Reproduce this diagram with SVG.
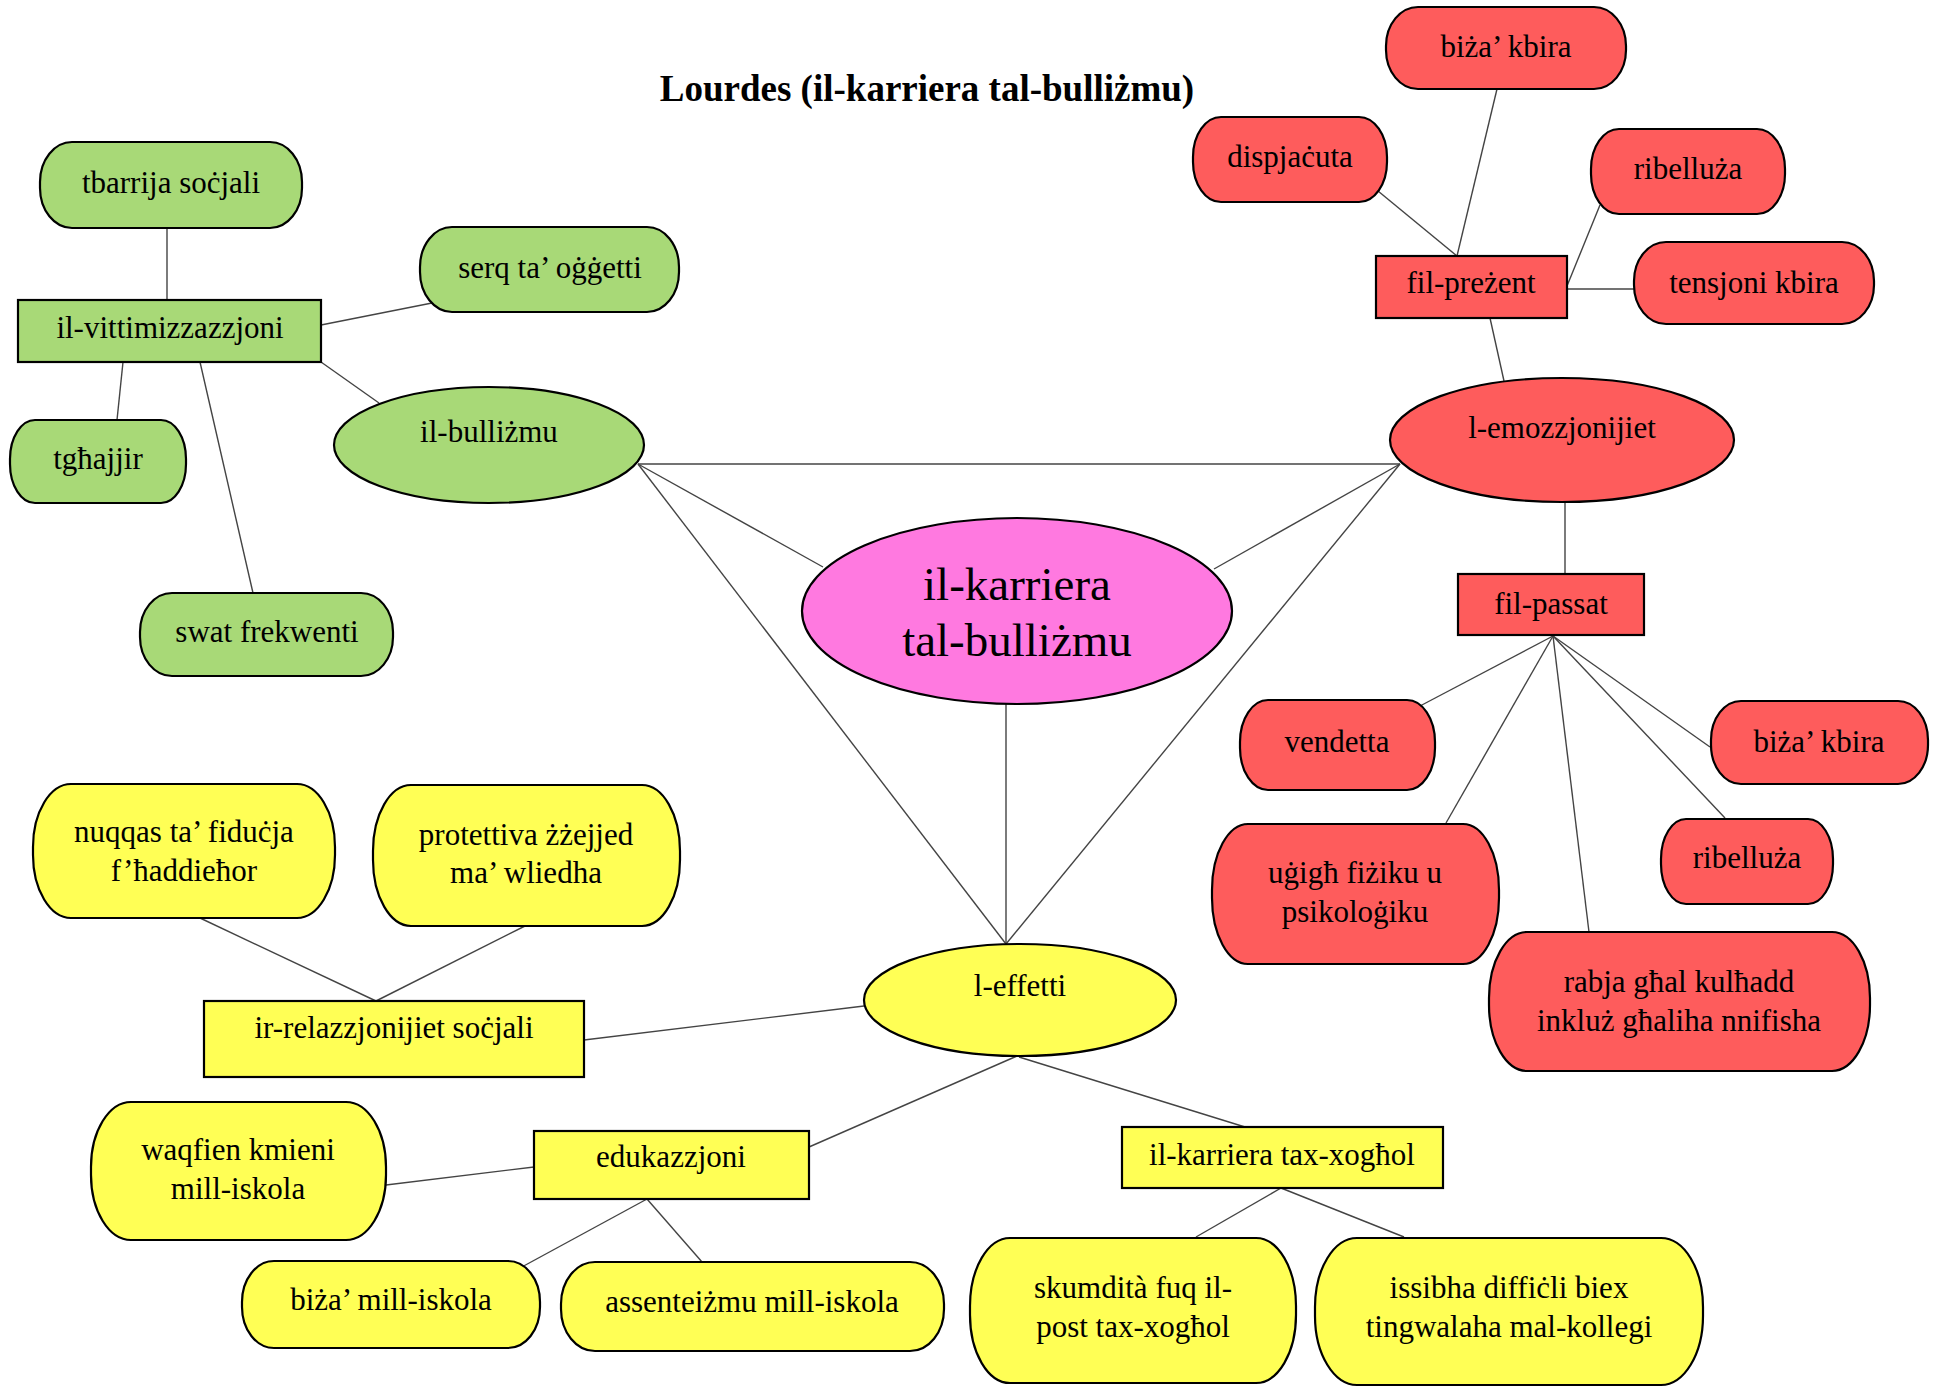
<svg xmlns="http://www.w3.org/2000/svg" width="1937" height="1387" viewBox="0 0 1937 1387">
<style>
.bg{fill:#ffffff}
.n{stroke:#000;stroke-width:2.2}
.g{fill:#a8d977}
.r{fill:#fe5c5c}
.y{fill:#ffff55}
.p{fill:#ff79e0}
.e{stroke:#444;stroke-width:1.4;fill:none}
text{font-family:"Liberation Serif","Times New Roman",serif;font-size:31px;fill:#000;text-anchor:middle}
.big{font-size:47px}
.title{font-size:37px;font-weight:bold}
</style>
<rect class="bg" x="0" y="0" width="1937" height="1387"/>
<text class="title" x="927" y="101">Lourdes (il-karriera tal-bulliżmu)</text>
<g id="connectors">
<line class="e" x1="167" y1="228" x2="167" y2="300"/>
<line class="e" x1="321" y1="325" x2="432" y2="303"/>
<line class="e" x1="321" y1="362" x2="379" y2="403"/>
<line class="e" x1="123" y1="362" x2="117" y2="420"/>
<line class="e" x1="200" y1="362" x2="253" y2="593"/>
<line class="e" x1="638" y1="464" x2="1400" y2="464"/>
<line class="e" x1="638" y1="464" x2="823" y2="567"/>
<line class="e" x1="638" y1="464" x2="1006" y2="944"/>
<line class="e" x1="1400" y1="464" x2="1214" y2="569"/>
<line class="e" x1="1400" y1="464" x2="1006" y2="944"/>
<line class="e" x1="1006" y1="704" x2="1006" y2="944"/>
<line class="e" x1="1457" y1="256" x2="1497" y2="89"/>
<line class="e" x1="1457" y1="256" x2="1378" y2="191"/>
<line class="e" x1="1567" y1="286" x2="1600" y2="205"/>
<line class="e" x1="1567" y1="289" x2="1634" y2="289"/>
<line class="e" x1="1490" y1="318" x2="1504" y2="381"/>
<line class="e" x1="1565" y1="503" x2="1565" y2="574"/>
<line class="e" x1="1553" y1="636" x2="1420" y2="706"/>
<line class="e" x1="1553" y1="636" x2="1446" y2="823"/>
<line class="e" x1="1553" y1="636" x2="1589" y2="932"/>
<line class="e" x1="1553" y1="636" x2="1725" y2="818"/>
<line class="e" x1="1553" y1="636" x2="1710" y2="747"/>
<line class="e" x1="200" y1="918" x2="376" y2="1001"/>
<line class="e" x1="525" y1="926" x2="376" y2="1001"/>
<line class="e" x1="584" y1="1040" x2="864" y2="1006"/>
<line class="e" x1="534" y1="1167" x2="386" y2="1185"/>
<line class="e" x1="809" y1="1147" x2="1017" y2="1056"/>
<line class="e" x1="647" y1="1199" x2="520" y2="1268"/>
<line class="e" x1="647" y1="1199" x2="702" y2="1262"/>
<line class="e" x1="1019" y1="1057" x2="1245" y2="1127"/>
<line class="e" x1="1281" y1="1188" x2="1196" y2="1237"/>
<line class="e" x1="1281" y1="1188" x2="1404" y2="1237"/>
</g>
<g id="n-tbarrija"><rect class="n g" x="40" y="142" width="262" height="86" rx="32" ry="40"/><text x="171" y="193">tbarrija soċjali</text></g>
<g id="n-serq"><rect class="n g" x="420" y="227" width="259" height="85" rx="32" ry="40"/><text x="550" y="278">serq ta’ oġġetti</text></g>
<g id="n-vittimizzazzjoni"><rect class="n g" x="18" y="300" width="303" height="62"/><text x="170" y="338">il-vittimizzazzjoni</text></g>
<g id="n-tghajjir"><rect class="n g" x="10" y="420" width="176" height="83" rx="25" ry="39"/><text x="98" y="469">tgħajjir</text></g>
<g id="n-bullizmu"><ellipse class="n g" cx="489" cy="445" rx="155" ry="58"/><text x="489" y="442">il-bulliżmu</text></g>
<g id="n-swat"><rect class="n g" x="140" y="593" width="253" height="83" rx="32" ry="39"/><text x="267" y="642">swat frekwenti</text></g>

<g id="n-biza-top"><rect class="n r" x="1386" y="7" width="240" height="82" rx="32" ry="39"/><text x="1506" y="57">biża’ kbira</text></g>
<g id="n-dispjacuta"><rect class="n r" x="1193" y="117" width="194" height="85" rx="28" ry="40"/><text x="1290" y="167">dispjaċuta</text></g>
<g id="n-ribelluza-top"><rect class="n r" x="1591" y="129" width="194" height="85" rx="28" ry="40"/><text x="1688" y="179">ribelluża</text></g>
<g id="n-tensjoni"><rect class="n r" x="1634" y="242" width="240" height="82" rx="32" ry="39"/><text x="1754" y="293">tensjoni kbira</text></g>
<g id="n-filprezent"><rect class="n r" x="1376" y="256" width="191" height="62"/><text x="1471" y="293">fil-preżent</text></g>
<g id="n-emozzjonijiet"><ellipse class="n r" cx="1562" cy="440" rx="172" ry="62"/><text x="1562" y="438">l-emozzjonijiet</text></g>
<g id="n-filpassat"><rect class="n r" x="1458" y="574" width="186" height="61"/><text x="1551" y="614">fil-passat</text></g>
<g id="n-vendetta"><rect class="n r" x="1240" y="700" width="195" height="90" rx="28" ry="42"/><text x="1337" y="752">vendetta</text></g>
<g id="n-ugigh"><rect class="n r" x="1212" y="824" width="287" height="140" rx="36" ry="66"/><text x="1355" y="883">uġigħ fiżiku u</text><text x="1355" y="922">psikoloġiku</text></g>
<g id="n-rabja"><rect class="n r" x="1489" y="932" width="381" height="139" rx="38" ry="66"/><text x="1679" y="992">rabja għal kulħadd</text><text x="1679" y="1031">inkluż għaliha nnifisha</text></g>
<g id="n-ribelluza-bottom"><rect class="n r" x="1661" y="819" width="172" height="85" rx="25" ry="40"/><text x="1747" y="868">ribelluża</text></g>
<g id="n-biza-bottom"><rect class="n r" x="1711" y="701" width="217" height="83" rx="30" ry="39"/><text x="1819" y="752">biża’ kbira</text></g>

<g id="n-center"><ellipse class="n p" cx="1017" cy="611" rx="215" ry="93"/><text class="big" x="1017" y="600">il-karriera</text><text class="big" x="1017" y="656">tal-bulliżmu</text></g>

<g id="n-effetti"><ellipse class="n y" cx="1020" cy="1000" rx="156" ry="56"/><text x="1020" y="996">l-effetti</text></g>
<g id="n-nuqqas"><rect class="n y" x="33" y="784" width="302" height="134" rx="38" ry="63"/><text x="184" y="842">nuqqas ta’ fiduċja</text><text x="184" y="881">f’ħaddieħor</text></g>
<g id="n-protettiva"><rect class="n y" x="373" y="785" width="307" height="141" rx="38" ry="66"/><text x="526" y="845">protettiva żżejjed</text><text x="526" y="883">ma’ wliedha</text></g>
<g id="n-relazzjonijiet"><rect class="n y" x="204" y="1001" width="380" height="76"/><text x="394" y="1038">ir-relazzjonijiet soċjali</text></g>
<g id="n-waqfien"><rect class="n y" x="91" y="1102" width="295" height="138" rx="40" ry="65"/><text x="238" y="1160">waqfien kmieni</text><text x="238" y="1199">mill-iskola</text></g>
<g id="n-edukazzjoni"><rect class="n y" x="534" y="1131" width="275" height="68"/><text x="671" y="1167">edukazzjoni</text></g>
<g id="n-biza-iskola"><rect class="n y" x="242" y="1261" width="298" height="87" rx="32" ry="41"/><text x="391" y="1310">biża’ mill-iskola</text></g>
<g id="n-assenteizmu"><rect class="n y" x="561" y="1262" width="383" height="89" rx="34" ry="42"/><text x="752" y="1312">assenteiżmu mill-iskola</text></g>
<g id="n-karriera-xoghol"><rect class="n y" x="1122" y="1127" width="321" height="61"/><text x="1282" y="1165">il-karriera tax-xogħol</text></g>
<g id="n-skumdita"><rect class="n y" x="970" y="1238" width="326" height="145" rx="40" ry="68"/><text x="1133" y="1298">skumdità fuq il-</text><text x="1133" y="1337">post tax-xogħol</text></g>
<g id="n-issibha"><rect class="n y" x="1315" y="1238" width="388" height="147" rx="42" ry="69"/><text x="1509" y="1298">issibha diffiċli biex</text><text x="1509" y="1337">tingwalaha mal-kollegi</text></g>
</svg>
